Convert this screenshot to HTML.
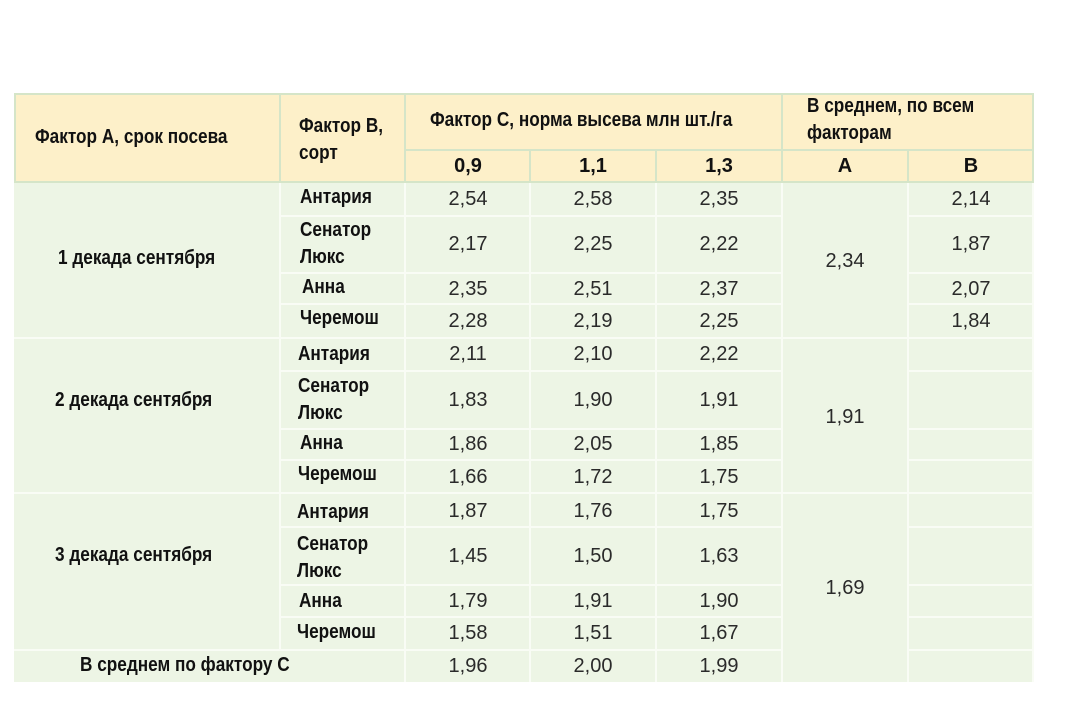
<!DOCTYPE html>
<html><head><meta charset="utf-8"><style>
body{margin:0;width:1065px;height:703px;background:#fff;position:relative;overflow:hidden;font-family:"Liberation Sans",sans-serif}
.b{position:absolute}
.t{position:absolute;white-space:nowrap;color:#222}
.n{font-size:20px;width:126px;text-align:center;color:#2a2a2a}
.l{font-family:"Liberation Sans Narrow","Liberation Sans",sans-serif;font-weight:bold;font-size:20px;color:#111;line-height:27px;transform:scaleX(0.86);transform-origin:0 0}
.hl{background:#d5e5c8}
.wl{background:#f9fcf5}
</style></head><body>
<div class="b" style="left:14px;top:93px;width:1019px;height:90px;background:#fdf0c9"></div>
<div class="b" style="left:14px;top:183px;width:1019px;height:499px;background:#edf5e5"></div>
<div class="b hl" style="left:14px;top:93px;width:1019px;height:2px"></div>
<div class="b hl" style="left:14px;top:181px;width:1019px;height:2px"></div>
<div class="b hl" style="left:14px;top:93px;width:2px;height:90px"></div>
<div class="b hl" style="left:1032px;top:93px;width:2px;height:90px"></div>
<div class="b hl" style="left:405px;top:149px;width:628px;height:2px"></div>
<div class="b hl" style="left:279px;top:93px;width:2px;height:90px"></div>
<div class="b hl" style="left:404px;top:93px;width:2px;height:90px"></div>
<div class="b hl" style="left:781px;top:93px;width:2px;height:90px"></div>
<div class="b hl" style="left:529px;top:150px;width:2px;height:33px"></div>
<div class="b hl" style="left:655px;top:150px;width:2px;height:33px"></div>
<div class="b hl" style="left:907px;top:150px;width:2px;height:33px"></div>
<div class="b wl" style="left:279px;top:183px;width:2px;height:467px"></div>
<div class="b wl" style="left:404px;top:183px;width:2px;height:499px"></div>
<div class="b wl" style="left:529px;top:183px;width:2px;height:499px"></div>
<div class="b wl" style="left:655px;top:183px;width:2px;height:499px"></div>
<div class="b wl" style="left:781px;top:183px;width:2px;height:499px"></div>
<div class="b wl" style="left:907px;top:183px;width:2px;height:499px"></div>
<div class="b wl" style="left:1032px;top:183px;width:2px;height:499px"></div>
<div class="b wl" style="left:14px;top:337px;width:1019px;height:2px"></div>
<div class="b wl" style="left:14px;top:492px;width:1019px;height:2px"></div>
<div class="b wl" style="left:14px;top:649px;width:768px;height:2px"></div>
<div class="b wl" style="left:908px;top:649px;width:125px;height:2px"></div>
<div class="b wl" style="left:280px;top:215px;width:502px;height:2px"></div>
<div class="b wl" style="left:280px;top:272px;width:502px;height:2px"></div>
<div class="b wl" style="left:280px;top:303px;width:502px;height:2px"></div>
<div class="b wl" style="left:280px;top:370px;width:502px;height:2px"></div>
<div class="b wl" style="left:280px;top:428px;width:502px;height:2px"></div>
<div class="b wl" style="left:280px;top:459px;width:502px;height:2px"></div>
<div class="b wl" style="left:280px;top:526px;width:502px;height:2px"></div>
<div class="b wl" style="left:280px;top:584px;width:502px;height:2px"></div>
<div class="b wl" style="left:280px;top:616px;width:502px;height:2px"></div>
<div class="b wl" style="left:908px;top:215px;width:125px;height:2px"></div>
<div class="b wl" style="left:908px;top:272px;width:125px;height:2px"></div>
<div class="b wl" style="left:908px;top:303px;width:125px;height:2px"></div>
<div class="b wl" style="left:908px;top:370px;width:125px;height:2px"></div>
<div class="b wl" style="left:908px;top:428px;width:125px;height:2px"></div>
<div class="b wl" style="left:908px;top:459px;width:125px;height:2px"></div>
<div class="b wl" style="left:908px;top:526px;width:125px;height:2px"></div>
<div class="b wl" style="left:908px;top:584px;width:125px;height:2px"></div>
<div class="b wl" style="left:908px;top:616px;width:125px;height:2px"></div>

<div class="t l" style="left:35px;top:124px">Фактор А, срок посева</div>
<div class="t l" style="left:299px;top:113px">Фактор В,<br>сорт</div>
<div class="t l" style="left:430px;top:107px">Фактор С, норма высева млн шт./га</div>
<div class="t l" style="left:807px;top:93px">В среднем, по всем<br>факторам</div>
<div class="t n" style="left:405px;top:155px;font-weight:bold;color:#111">0,9</div>
<div class="t n" style="left:530px;top:155px;font-weight:bold;color:#111">1,1</div>
<div class="t n" style="left:656px;top:155px;font-weight:bold;color:#111">1,3</div>
<div class="t n" style="left:782px;top:155px;font-weight:bold;color:#111">А</div>
<div class="t n" style="left:908px;top:155px;font-weight:bold;color:#111">В</div>

<div class="t l" style="left:58px;top:245px">1 декада сентября</div>
<div class="t l" style="left:55px;top:387px">2 декада сентября</div>
<div class="t l" style="left:55px;top:542px">3 декада сентября</div>
<div class="t l" style="left:80px;top:652px">В среднем по фактору С</div>

<div class="t l" style="left:300px;top:184px">Антария</div>
<div class="t l" style="left:300px;top:217px">Сенатор<br>Люкс</div>
<div class="t l" style="left:302px;top:274px">Анна</div>
<div class="t l" style="left:300px;top:305px">Черемош</div>
<div class="t l" style="left:298px;top:341px">Антария</div>
<div class="t l" style="left:298px;top:373px">Сенатор<br>Люкс</div>
<div class="t l" style="left:300px;top:430px">Анна</div>
<div class="t l" style="left:298px;top:461px">Черемош</div>
<div class="t l" style="left:297px;top:499px">Антария</div>
<div class="t l" style="left:297px;top:531px">Сенатор<br>Люкс</div>
<div class="t l" style="left:299px;top:588px">Анна</div>
<div class="t l" style="left:297px;top:619px">Черемош</div>

<div class="t n" style="left:405px;top:188px">2,54</div><div class="t n" style="left:530px;top:188px">2,58</div><div class="t n" style="left:656px;top:188px">2,35</div><div class="t n" style="left:908px;top:188px">2,14</div>
<div class="t n" style="left:405px;top:233px">2,17</div><div class="t n" style="left:530px;top:233px">2,25</div><div class="t n" style="left:656px;top:233px">2,22</div><div class="t n" style="left:908px;top:233px">1,87</div>
<div class="t n" style="left:405px;top:278px">2,35</div><div class="t n" style="left:530px;top:278px">2,51</div><div class="t n" style="left:656px;top:278px">2,37</div><div class="t n" style="left:908px;top:278px">2,07</div>
<div class="t n" style="left:405px;top:310px">2,28</div><div class="t n" style="left:530px;top:310px">2,19</div><div class="t n" style="left:656px;top:310px">2,25</div><div class="t n" style="left:908px;top:310px">1,84</div>
<div class="t n" style="left:782px;top:250px">2,34</div>
<div class="t n" style="left:405px;top:343px">2,11</div><div class="t n" style="left:530px;top:343px">2,10</div><div class="t n" style="left:656px;top:343px">2,22</div>
<div class="t n" style="left:405px;top:389px">1,83</div><div class="t n" style="left:530px;top:389px">1,90</div><div class="t n" style="left:656px;top:389px">1,91</div>
<div class="t n" style="left:405px;top:433px">1,86</div><div class="t n" style="left:530px;top:433px">2,05</div><div class="t n" style="left:656px;top:433px">1,85</div>
<div class="t n" style="left:405px;top:466px">1,66</div><div class="t n" style="left:530px;top:466px">1,72</div><div class="t n" style="left:656px;top:466px">1,75</div>
<div class="t n" style="left:782px;top:406px">1,91</div>
<div class="t n" style="left:405px;top:500px">1,87</div><div class="t n" style="left:530px;top:500px">1,76</div><div class="t n" style="left:656px;top:500px">1,75</div>
<div class="t n" style="left:405px;top:545px">1,45</div><div class="t n" style="left:530px;top:545px">1,50</div><div class="t n" style="left:656px;top:545px">1,63</div>
<div class="t n" style="left:405px;top:590px">1,79</div><div class="t n" style="left:530px;top:590px">1,91</div><div class="t n" style="left:656px;top:590px">1,90</div>
<div class="t n" style="left:405px;top:622px">1,58</div><div class="t n" style="left:530px;top:622px">1,51</div><div class="t n" style="left:656px;top:622px">1,67</div>
<div class="t n" style="left:782px;top:577px">1,69</div>
<div class="t n" style="left:405px;top:655px">1,96</div><div class="t n" style="left:530px;top:655px">2,00</div><div class="t n" style="left:656px;top:655px">1,99</div>
</body></html>
